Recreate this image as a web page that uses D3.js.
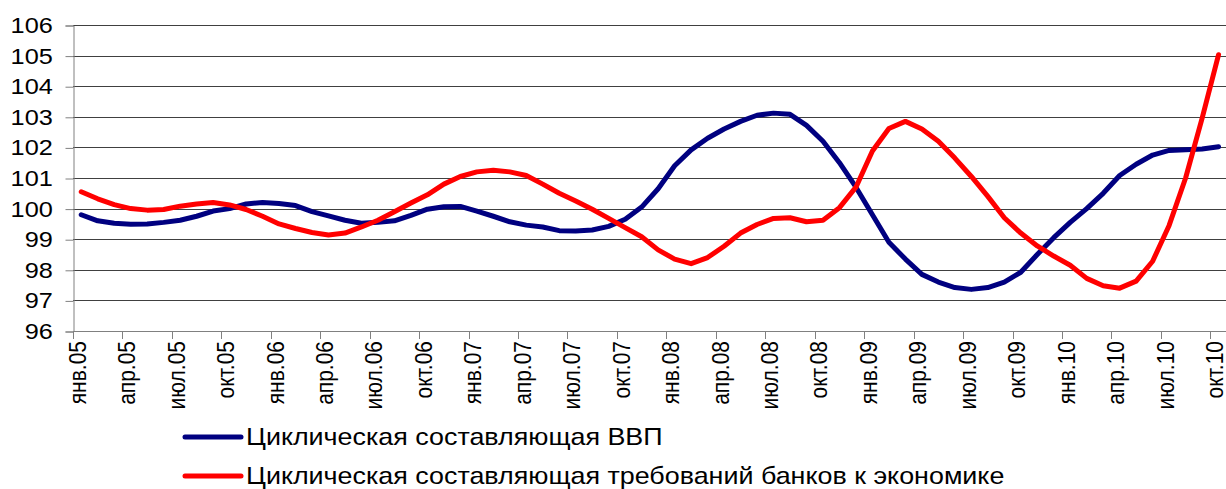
<!DOCTYPE html>
<html>
<head>
<meta charset="utf-8">
<script src="https://cdn.jsdelivr.net/npm/d3@7"></script>
<style>
  body { margin: 0; background: #fff; }
  svg { display: block; font-family: "Liberation Sans", Arial, sans-serif; }
</style>
</head>
<body>
<svg id="chart" width="1226" height="489"></svg>
<script>
// months from янв.05 to окт.10
var monthNames = ["янв","фев","мар","апр","май","июн","июл","авг","сен","окт","ноя","дек"];
var years = ["05","06","07","08","09","10"];
var yTicks = [96, 97, 98, 99, 100, 101, 102, 103, 104, 105, 106];

var seriesNames = ["Циклическая составляющая ВВП",
                   "Циклическая составляющая требований банков к экономике"];

var gdp = [99.8, 99.6, 99.52, 99.49, 99.5, 99.55, 99.62, 99.75, 99.92, 100.0,
           100.15, 100.2, 100.17, 100.1, 99.9, 99.76, 99.62, 99.52, 99.55, 99.6,
           99.78, 99.98, 100.06, 100.07, 99.92, 99.75, 99.57, 99.46, 99.4, 99.28,
           99.27, 99.3, 99.42, 99.65, 100.05, 100.65, 101.4, 101.92, 102.3, 102.6,
           102.85, 103.05, 103.12, 103.08, 102.72, 102.2, 101.5, 100.7, 99.8, 98.9,
           98.35, 97.85, 97.6, 97.42, 97.36, 97.42, 97.6, 97.92, 98.5, 99.05,
           99.55, 100.0, 100.5, 101.08, 101.45, 101.75, 101.9, 101.92, 101.95, 102.02];

var credit = [100.55, 100.32, 100.13, 100.0, 99.95, 99.97, 100.08, 100.15, 100.2, 100.12,
              99.97, 99.75, 99.5, 99.35, 99.22, 99.14, 99.2, 99.4, 99.62, 99.9,
              100.18, 100.45, 100.8, 101.05, 101.2, 101.25, 101.2, 101.08, 100.8, 100.5,
              100.25, 99.98, 99.68, 99.38, 99.08, 98.65, 98.35, 98.2, 98.4, 98.77,
              99.2, 99.48, 99.68, 99.7, 99.57, 99.62, 100.03, 100.7, 101.88, 102.62,
              102.85, 102.6, 102.2, 101.65, 101.05, 100.4, 99.7, 99.2, 98.78, 98.45,
              98.15, 97.72, 97.48, 97.4, 97.63, 98.28, 99.45, 101.0, 102.95, 105.03];

var colors = ["#000080", "#ff0000"];

var categories = [];
for (var yr = 0; yr < years.length; yr++){
    for (var m = 0; m < 12; m++){
        if (categories.length < gdp.length){
            categories.push(monthNames[m] + "." + years[yr]);
        }
    }
}
var tickLabels = categories.filter(function(d, i){ return i % 3 == 0; });

var plotLeft = 73, plotTop = 25, plotBottom = 331;
var bandW = 16.483;
var plotRight = plotLeft + categories.length * bandW;
var stretch = 1.15; // the picture is wider than the fonts

var svg = d3.select("#chart");

var x = d3.scaleBand().domain(categories).range([plotLeft, plotRight]);
var yScale = d3.scaleLinear().domain([96, 106]).range([plotBottom, plotTop]);

// gridlines
svg.append("g").selectAll("line").data(yTicks).enter().append("line")
    .attr("x1", plotLeft).attr("x2", plotRight)
    .attr("y1", function(d){ return Math.round(yScale(d)) + 0.5; })
    .attr("y2", function(d){ return Math.round(yScale(d)) + 0.5; })
    .attr("stroke", "#404040").attr("stroke-width", 1);

// y axis
var yAxis = svg.append("g").attr("transform", "translate(" + (plotLeft + 0.5) + ",0.5)")
    .call(d3.axisLeft(yScale).tickValues(yTicks).tickSize(8).tickPadding(10).tickFormat(d3.format("d")));
yAxis.select(".domain").attr("stroke", "#808080");
yAxis.selectAll(".tick line").attr("stroke", "#808080");
yAxis.selectAll("text").attr("font-size", "22px").attr("fill", "#000")
    .attr("font-family", "Liberation Sans, Arial, sans-serif")
    .attr("transform", "scale(" + stretch + ",1)");

// x axis
var xg = svg.append("g");
xg.append("line").attr("x1", plotLeft).attr("x2", plotRight)
    .attr("y1", plotBottom + 0.5).attr("y2", plotBottom + 0.5).attr("stroke", "#808080");
xg.selectAll("line.tk").data(tickLabels).enter().append("line").attr("class", "tk")
    .attr("x1", function(d){ return Math.round(x(d)) + 0.5; })
    .attr("x2", function(d){ return Math.round(x(d)) + 0.5; })
    .attr("y1", plotBottom).attr("y2", plotBottom + 8)
    .attr("stroke", "#808080");
xg.selectAll("text").data(tickLabels).enter().append("text")
    .attr("transform", function(d){
        return "translate(" + (x(d) + x.bandwidth() / 2 + 4.5) + "," + (plotBottom + 10) + ") rotate(-90) scale(1," + stretch + ")";
    })
    .attr("text-anchor", "end")
    .attr("font-size", "21px")
    .text(function(d){ return d; });

// lines
var line = d3.line()
    .x(function(d, i){ return x(categories[i]) + x.bandwidth() / 2; })
    .y(function(d){ return yScale(d); });

[gdp, credit].forEach(function(s, k){
    svg.append("path").datum(s)
        .attr("d", line)
        .attr("fill", "none")
        .attr("stroke", colors[k])
        .attr("stroke-width", 5)
        .attr("stroke-linejoin", "round")
        .attr("stroke-linecap", "round");
});

// legend
var leg = svg.append("g");
var legY = [437, 476];
seriesNames.forEach(function(name, k){
    leg.append("line").attr("x1", 185).attr("x2", 241)
        .attr("y1", legY[k]).attr("y2", legY[k])
        .attr("stroke", colors[k]).attr("stroke-width", 5).attr("stroke-linecap", "round");
    leg.append("text")
        .attr("transform", "translate(246," + (legY[k] + 8) + ") scale(1.12,1)")
        .attr("font-size", "24px")
        .text(name);
});
</script>
</body>
</html>
